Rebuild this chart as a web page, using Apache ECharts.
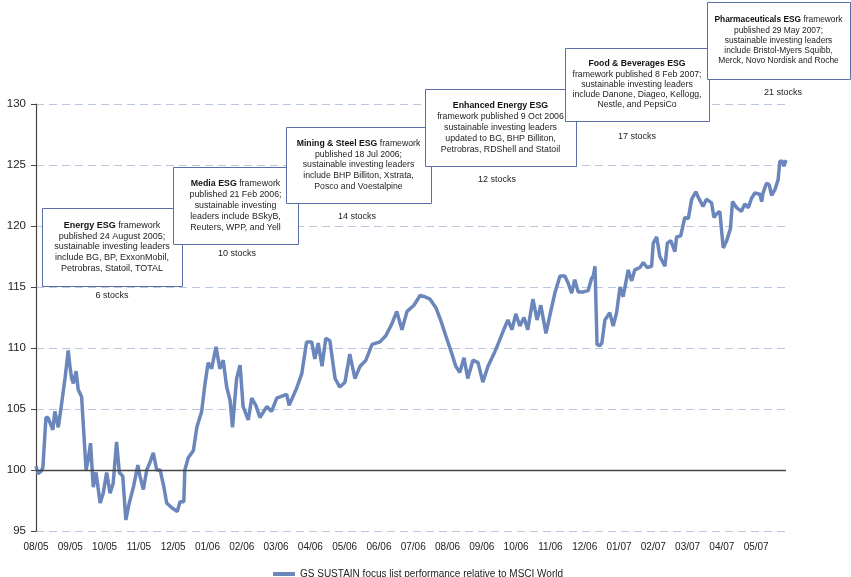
<!DOCTYPE html>
<html>
<head>
<meta charset="utf-8">
<script src="https://cdn.jsdelivr.net/npm/echarts@6/dist/echarts.min.js"></script>
<style>
html,body{margin:0;padding:0;background:#fff;}
#chart{width:851px;height:577px;}
</style>
</head>
<body>
<div id="chart"></div>
<script>
// ---- data ----
var monthLabels = ['08/05','09/05','10/05','11/05','12/05','01/06','02/06','03/06','04/06','05/06','06/06','07/06',
  '08/06','09/06','10/06','11/06','12/06','01/07','02/07','03/07','04/07','05/07'];
// time position in months since first label
var monthPos = [0.00,0.06,0.15,0.20,0.29,0.35,0.49,0.55,0.65,0.75,0.85,0.94,0.99,1.04,1.09,1.17,1.23,1.33,1.46,1.52,
  1.59,1.67,1.75,1.87,1.96,2.06,2.16,2.25,2.35,2.43,2.53,2.62,2.72,2.84,2.97,3.03,3.13,3.23,3.32,3.42,
  3.52,3.62,3.73,3.81,3.96,4.12,4.20,4.31,4.34,4.44,4.59,4.69,4.83,4.93,5.02,5.12,5.25,5.36,5.46,5.56,
  5.66,5.73,5.85,5.95,6.04,6.19,6.29,6.41,6.53,6.73,6.87,7.02,7.31,7.38,7.60,7.75,7.89,8.04,8.13,8.23,
  8.34,8.45,8.57,8.72,8.86,9.01,9.15,9.30,9.45,9.62,9.80,10.03,10.20,10.38,10.52,10.67,10.82,11.02,11.20,11.34,
  11.49,11.66,11.81,11.95,12.13,12.24,12.36,12.48,12.59,12.74,12.89,13.03,13.18,13.35,13.50,13.64,13.76,13.88,13.99,14.11,
  14.23,14.34,14.49,14.61,14.72,14.87,15.01,15.13,15.28,15.42,15.52,15.62,15.71,15.81,15.96,16.10,16.20,16.25,16.30,16.36,
  16.44,16.50,16.59,16.73,16.83,16.93,17.03,17.12,17.27,17.37,17.46,17.61,17.71,17.82,17.95,18.00,18.10,18.19,18.34,18.41,
  18.51,18.63,18.68,18.80,18.92,19.02,19.12,19.24,19.34,19.45,19.55,19.70,19.77,19.85,19.94,20.04,20.14,20.25,20.31,20.43,
  20.57,20.67,20.77,20.87,20.96,21.11,21.16,21.20,21.30,21.38,21.45,21.55,21.64,21.69,21.77,21.81,21.87];
var perf = [100.3,99.7,99.9,100.2,104.3,104.3,103.3,104.8,103.5,105.5,107.6,109.8,108.5,107.5,107.1,108.1,106.6,106.0,100.0,100.8,
  102.2,98.6,99.8,97.3,98.1,99.8,98.1,98.9,102.3,99.8,99.5,95.9,97.3,98.6,100.4,99.5,98.4,100.0,100.6,101.4,
  100.0,100.0,98.6,97.3,96.9,96.6,97.4,97.4,100.0,101.0,101.6,103.5,104.8,107.1,108.8,108.3,110.1,108.3,109.0,106.8,
  105.7,103.5,107.5,108.6,105.2,104.1,105.9,105.3,104.3,105.2,104.8,105.9,106.2,105.3,106.7,107.9,110.5,110.5,109.1,110.4,
  108.5,110.8,110.6,107.5,106.8,107.2,109.5,107.5,108.5,109.0,110.3,110.5,111.0,112.0,113.0,111.5,113.0,113.5,114.3,114.2,
  114.0,113.3,112.2,111.0,109.5,108.5,108.0,109.2,107.5,109.0,108.8,107.2,108.5,109.5,110.5,111.5,112.3,111.5,112.8,111.8,
  112.5,111.5,114.0,112.3,113.5,111.2,113.0,114.5,115.9,115.9,115.3,114.5,115.6,114.6,114.6,114.7,115.7,115.9,116.7,110.3,
  110.2,110.4,112.3,112.9,111.8,112.9,115.0,114.2,116.4,115.5,116.4,116.6,117.0,116.6,116.7,118.6,119.1,117.5,116.7,118.6,
  118.8,117.9,119.1,119.2,120.7,120.6,122.2,122.8,122.2,121.6,122.2,121.9,120.7,121.0,121.2,118.2,118.8,119.8,122.0,121.5,
  121.2,121.8,121.5,122.3,122.7,122.6,122.0,122.7,123.5,123.4,122.5,123.0,123.8,125.3,125.3,124.9,125.4];
var yTicks = [95, 100, 105, 110, 115, 120, 125, 130];
var seriesName = 'GS SUSTAIN focus list performance relative to MSCI World';

var boxes = [
  {lines:['{b|Energy ESG} framework','published 24 August 2005;','sustainable investing leaders','include BG, BP, ExxonMobil,','Petrobras, Statoil, TOTAL'], stocks:'6 stocks'},
  {lines:['{b|Media ESG} framework','published 21 Feb 2006;','sustainable investing','leaders include BSkyB,','Reuters, WPP, and Yell'], stocks:'10 stocks'},
  {lines:['{b|Mining & Steel ESG} framework','published 18 Jul 2006;','sustainable investing leaders','include BHP Billiton, Xstrata,','Posco and Voestalpine'], stocks:'14 stocks'},
  {lines:['{b|Enhanced Energy ESG}','framework published 9 Oct 2006','sustainable investing leaders','updated to BG, BHP Billiton,','Petrobras, RDShell and Statoil'], stocks:'12 stocks'},
  {lines:['{b|Food & Beverages ESG}','framework published 8 Feb 2007;','sustainable investing leaders','include Danone, Diageo, Kellogg,','Nestle, and PepsiCo'], stocks:'17 stocks'},
  {lines:['{b|Pharmaceuticals ESG} framework','published 29 May 2007;','sustainable investing leaders','include Bristol-Myers Squibb,','Merck, Novo Nordisk and Roche'], stocks:'21 stocks'}
];
// ---- layout (pixels) ----
var boxRects = [[42,208,140,78],[173,167,125,77],[286,127,145,76],[425,89,151,77],[565,48,144,73],[707,2,143,77]];
var boxFont = [9, 8.8, 8.7, 8.8, 8.7, 8.4];
var boxLine = [10.8, 10.8, 10.6, 10.8, 10.3, 10.2];
var stockPos = [[112,296],[237,254],[357,217],[497,180],[637,137],[783,93]];

var FONT = '"Liberation Sans", Arial, sans-serif';
var chart = echarts.init(document.getElementById('chart'));
var lineData = monthPos.map(function(t,i){ return [t, perf[i]]; });

var graphics = [];
boxes.forEach(function(b, i){
  var r = boxRects[i];
  graphics.push({type:'rect', z:100+2*i, shape:{x:r[0]+0.5,y:r[1]+0.5,width:r[2],height:r[3]},
    style:{fill:'#fff', stroke:'#5a6fa8', lineWidth:1}});
  graphics.push({type:'text', z:101+2*i, x:r[0]+r[2]/2, y:r[1]+r[3]/2,
    style:{text:b.lines.join('\n'), align:'center', verticalAlign:'middle',
      font:boxFont[i]+'px '+FONT, fill:'#222', lineHeight:boxLine[i],
      rich:{b:{fontWeight:'bold', fontSize:boxFont[i], fontFamily:FONT, fill:'#111', lineHeight:boxLine[i]}}}});
  graphics.push({type:'text', z:99, x:stockPos[i][0], y:stockPos[i][1],
    style:{text:b.stocks, align:'center', verticalAlign:'middle', font:'9px '+FONT, fill:'#222'}});
});

chart.setOption({
  animation:false,
  backgroundColor:'#fff',
  grid:{left:36, right:65, top:104, bottom:46},
  legend:{
    data:[{name:seriesName, icon:'rect'}],
    left:268, top:564, itemWidth:22, itemHeight:4,
    textStyle:{fontFamily:FONT, fontSize:10, color:'#222'}
  },
  xAxis:{
    type:'value', min:0, max:21.87, interval:1,
    axisLine:{show:false}, axisTick:{show:false}, splitLine:{show:false},
    axisLabel:{
      margin:11, fontFamily:FONT, fontSize:10, color:'#222', showMaxLabel:false,
      formatter:function(v){ var k=Math.round(v); return (Math.abs(v-k)<1e-6 && monthLabels[k]) ? monthLabels[k] : ''; }
    }
  },
  yAxis:{
    type:'value', min:yTicks[0], max:yTicks[yTicks.length-1], interval:5,
    axisLine:{show:true, lineStyle:{color:'#444', width:1.2}},
    axisTick:{show:true, length:5, lineStyle:{color:'#444'}},
    axisLabel:{margin:10, fontFamily:FONT, fontSize:11.5, color:'#222'},
    splitLine:{show:true, lineStyle:{color:'#b9c6dd', type:[8,5], width:1}}
  },
  series:[{
    name:seriesName, type:'line', data:lineData, showSymbol:false, symbol:'none',
    lineStyle:{color:'#6a86bb', width:3.5}, itemStyle:{color:'#6a86bb'},
    markLine:{silent:true, symbol:'none', label:{show:false},
      lineStyle:{color:'#444', type:'solid', width:1.3},
      data:[{yAxis:100}]}
  }],
  graphic:graphics
});
</script>
</body>
</html>
